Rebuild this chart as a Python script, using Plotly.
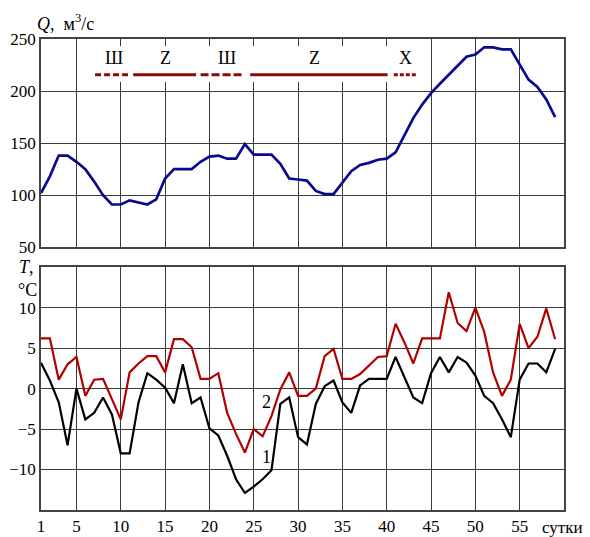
import plotly.graph_objects as go

days = list(range(1, 60))
discharge = [102, 118, 138, 138, 132, 125, 113, 100, 91, 91,
             95, 93, 91, 96, 116, 125, 125, 125, 132, 137,
             138, 135, 135, 149, 139, 139, 139, 130, 116, 115,
             114, 104, 101, 101, 112, 123, 129, 131, 134, 135,
             141, 158, 174, 187, 198, 207, 216, 225, 233, 235,
             242, 242, 240, 240, 225, 211, 204, 192, 175]
temp1 = [3.2, 1.0, -1.7, -7.0, 0.0, -3.8, -3.0, -1.1, -3.2, -8.0,
         -8.0, -1.7, 1.9, 1.1, 0.1, -1.8, 3.0, -1.8, -1.1, -4.9,
         -5.8, -8.3, -11.2, -12.9, -12.1, -11.2, -10.1, -1.9, -1.1, -6.0,
         -6.9, -1.9, 0.3, 1.0, -1.7, -3.0, 0.4, 1.2, 1.2, 1.2,
         3.9, 1.4, -1.1, -1.8, 1.9, 3.9, 2.0, 3.9, 3.2, 1.6,
         -0.9, -1.8, -3.8, -6.0, 1.1, 3.1, 3.1, 2.0, 4.9]
temp2 = [6.2, 6.2, 1.1, 3.0, 3.9, -0.9, 1.1, 1.2, -1.3, -3.8,
         2.0, 3.1, 4.0, 4.0, 2.0, 6.1, 6.1, 5.1, 1.2, 1.2,
         1.9, -3.0, -5.6, -7.9, -5.0, -5.9, -3.4, -0.1, 2.0, -0.9,
         -0.9, 0.0, 4.0, 4.9, 1.2, 1.2, 1.8, 2.8, 3.9, 4.0,
         8.0, 5.7, 3.1, 6.2, 6.2, 6.2, 11.9, 8.1, 7.1, 10.0,
         7.0, 2.0, -0.9, 1.1, 8.0, 5.0, 6.4, 9.9, 6.1]

# ice-phenomena periods: label, label position (day), start day, end day, dash style
phase_labels = ["Ш", "Z", "Ш", "Z", "X"]
phase_label_day = [9.2, 15.1, 22.0, 31.8, 42.1]
phase_start = [7.1, 11.4, 19.0, 24.6, 40.8]
phase_end = [10.9, 18.5, 23.9, 40.1, 43.4]
phase_dash = ["6px,3px", "solid", "8px,3px", "solid", "4px,2px"]
phase_level = 215.7
phase_label_level = 231.5

x_ticks = [1, 5, 10, 15, 20, 25, 30, 35, 40, 45, 50, 55]
q_ticks = [50, 100, 150, 200, 250]
t_ticks = [-10, -5, 0, 5, 10]

FONT = "Times New Roman, Liberation Serif, serif"
FS = 17
GRID = "#3a3a3a"

fig = go.Figure()

fig.add_trace(go.Scatter(x=days, y=discharge, mode="lines",
                         line=dict(color="#0a0a8c", width=2.7),
                         xaxis="x", yaxis="y", showlegend=False))

for lab, ld, s, e, d in zip(phase_labels, phase_label_day, phase_start, phase_end, phase_dash):
    fig.add_trace(go.Scatter(x=[s, e], y=[phase_level, phase_level], mode="lines",
                             line=dict(color="#8b0a0a", width=3, dash=d),
                             xaxis="x", yaxis="y", showlegend=False))
    fig.add_annotation(x=ld, y=phase_label_level, xref="x", yref="y",
                       text=lab, showarrow=False,
                       font=dict(family=FONT, size=18, color="black"))

fig.add_trace(go.Scatter(x=days, y=temp1, mode="lines",
                         line=dict(color="black", width=2.2),
                         xaxis="x2", yaxis="y2", showlegend=False))
fig.add_trace(go.Scatter(x=days, y=temp2, mode="lines",
                         line=dict(color="#b00000", width=2.2),
                         xaxis="x2", yaxis="y2", showlegend=False))

fig.add_shape(type="rect", xref="x", yref="y", x0=min(phase_start), x1=max(phase_end),
              y0=209, y1=243, fillcolor="white", line=dict(width=0), layer="between")

axis_common = dict(showline=True, mirror=True, linecolor="#444", linewidth=1.5,
                   showgrid=True, gridcolor=GRID, gridwidth=1, zeroline=False,
                   automargin=False, ticks="",
                   tickfont=dict(family=FONT, size=FS, color="black"))

fig.update_layout(
    template="none",
    width=590, height=537,
    margin=dict(l=41, r=26, t=39, b=27),
    paper_bgcolor="white", plot_bgcolor="white",
    xaxis=dict(domain=[0, 1], anchor="y", range=[1, 60], tickvals=x_ticks[1:],
               showticklabels=False, **axis_common),
    yaxis=dict(domain=[0.558, 1], anchor="x", range=[50, 250], tickvals=q_ticks,
               **axis_common),
    xaxis2=dict(domain=[0, 1], anchor="y2", range=[1, 60], tickvals=x_ticks,
                **axis_common),
    yaxis2=dict(domain=[0, 0.5156], anchor="x2", range=[-15, 15], tickvals=t_ticks,
                **axis_common),
)

fig.add_annotation(x=-0.012, y=1.035, xref="paper", yref="paper",
                   text="<i>Q</i>,  м<sup>3</sup>/с", showarrow=False,
                   xanchor="left", yanchor="middle",
                   font=dict(family=FONT, size=18, color="black"))
fig.add_annotation(x=-0.010, y=0.516, xref="paper", yref="paper",
                   text="<i>T</i>,", showarrow=False, xanchor="right", yanchor="middle",
                   font=dict(family=FONT, size=18, color="black"))
fig.add_annotation(x=-0.004, y=0.4674, xref="paper", yref="paper",
                   text="°C", showarrow=False, xanchor="right", yanchor="middle",
                   font=dict(family=FONT, size=18, color="black"))
fig.add_annotation(x=0.9967, y=-0.038, xref="paper", yref="paper",
                   text="сутки", showarrow=False, xanchor="center", yanchor="middle",
                   font=dict(family=FONT, size=FS, color="black"))
fig.add_annotation(x=26.4, y=-1.7, xref="x2", yref="y2", text="2", showarrow=False,
                   font=dict(family=FONT, size=18, color="black"))
fig.add_annotation(x=26.4, y=-8.5, xref="x2", yref="y2", text="1", showarrow=False,
                   font=dict(family=FONT, size=18, color="black"))

fig.write_html("out.html", config={"displayModeBar": False},
               post_script="document.body.style.margin='0';document.body.style.overflow='hidden';")
